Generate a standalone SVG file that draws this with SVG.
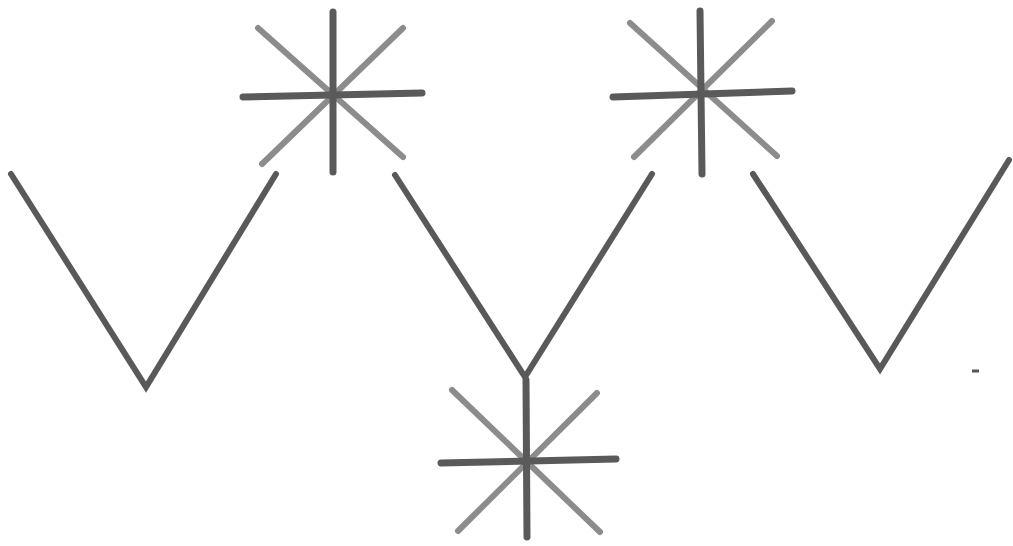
<svg xmlns="http://www.w3.org/2000/svg" width="1013" height="546" viewBox="0 0 1013 546">
<style>
.v{fill:none;stroke:#595959;stroke-width:6;stroke-linecap:round;stroke-linejoin:miter}
.m{stroke:#5a5a5a;stroke-width:7;stroke-linecap:round}
.d{stroke:#8c8c8c;stroke-width:6;stroke-linecap:round}
</style>
<rect width="1013" height="546" fill="#ffffff"/>
<g id="v1"><polyline class="v" points="11,174 146,387 276,174"/></g>
<g id="v2"><polyline class="v" points="395,175 525,377 652,174"/></g>
<g id="v3"><polyline class="v" points="753,174 880,369 1009,160"/></g>
<g id="star1">
<line class="d" x1="258" y1="28" x2="403" y2="157"/>
<line class="d" x1="403" y1="28" x2="262" y2="164"/>
<line class="m" x1="333" y1="12" x2="333" y2="172"/>
<line class="m" x1="243" y1="97" x2="422" y2="93"/>
</g>
<g id="star2">
<line class="d" x1="630" y1="23" x2="777" y2="156"/>
<line class="d" x1="772" y1="21" x2="634" y2="157"/>
<line class="m" x1="700" y1="11" x2="702" y2="174"/>
<line class="m" x1="613" y1="97" x2="792" y2="91"/>
</g>
<g id="star3">
<line class="d" x1="452" y1="390" x2="600" y2="532"/>
<line class="d" x1="597" y1="393" x2="458" y2="531"/>
<line class="m" x1="526" y1="380" x2="527" y2="537"/>
<line class="m" x1="441" y1="463" x2="616" y2="459"/>
</g>
<g id="mark"><line x1="972" y1="371" x2="979" y2="371" stroke="#555" stroke-width="3"/></g>
</svg>
